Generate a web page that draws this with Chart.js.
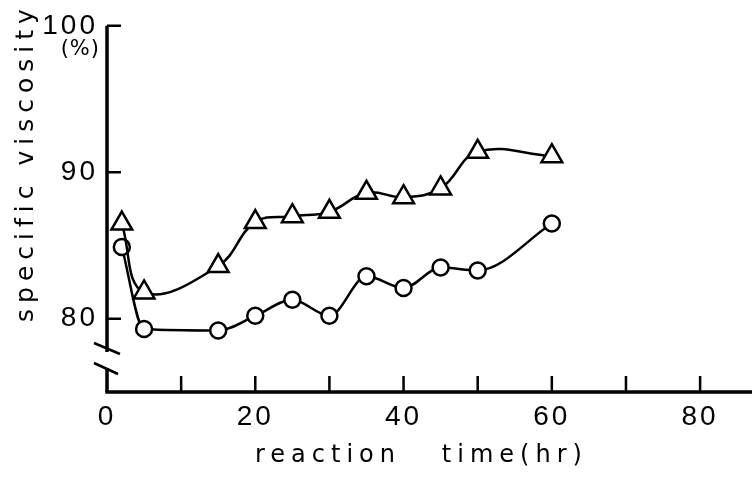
<!DOCTYPE html>
<html>
<head>
<meta charset="utf-8">
<script src="https://cdn.jsdelivr.net/npm/chart.js@4/dist/chart.umd.min.js"></script>
<style>
    html, body { margin: 0; padding: 0; background: #fff; overflow: hidden; }
    #wrap { width: 752px; height: 480px; overflow: hidden; }
    #viscChart { display: block; }
</style>
</head>
<body>
<div id="wrap"><canvas id="viscChart" width="752" height="480"></canvas></div>
<script>
// Data
const hours = [2, 5, 15, 20, 25, 30, 35, 40, 45, 50, 60];
const triangleSeries = [86.5, 81.8, 83.6, 86.6, 87.0, 87.3, 88.6, 88.3, 88.9, 91.4, 91.1];
const circleSeries = [84.9, 79.3, 79.2, 80.2, 81.3, 80.2, 82.9, 82.1, 83.5, 83.3, 86.5];
const xTicks = [0, 10, 20, 30, 40, 50, 60, 70, 80];
const xLabeled = [0, 20, 40, 60, 80];
const yTicks = [80, 90, 100];

const xTitle = 'reaction   time(hr)';
const yTitle = 'specific viscosity';
const yUnit = '(%)';

function toPoints(values) {
    return hours.map((h, i) => ({ x: h, y: values[i] }));
}

// axes, inward ticks, axis break and titles
const decorPlugin = {
    id: 'decor',
    beforeDraw(chart) {
        chart.ctx.letterSpacing = '3px';
    },
    afterDraw(chart) {
        const ctx = chart.ctx;
        const area = chart.chartArea;
        const xs = chart.scales.x;
        const ys = chart.scales.y;
        const left = area.left;
        const bottom = area.bottom;

        ctx.save();
        ctx.letterSpacing = '0px';
        ctx.strokeStyle = '#000';
        ctx.lineCap = 'butt';

        // x axis
        ctx.lineWidth = 3.5;
        ctx.beginPath();
        ctx.moveTo(left - 1.75, bottom);
        ctx.lineTo(area.right, bottom);
        ctx.stroke();

        // y axis with a break near the bottom
        ctx.beginPath();
        ctx.moveTo(left, area.top);
        ctx.lineTo(left, bottom - 40);
        ctx.moveTo(left, bottom - 24);
        ctx.lineTo(left, bottom);
        ctx.stroke();

        ctx.lineWidth = 2.5;
        ctx.beginPath();
        ctx.moveTo(left - 13, bottom - 49);
        ctx.lineTo(left + 13, bottom - 38);
        ctx.moveTo(left - 13, bottom - 29);
        ctx.lineTo(left + 11, bottom - 18);
        ctx.stroke();

        // tick marks pointing into the plot
        ctx.lineWidth = 2.5;
        ctx.beginPath();
        xTicks.forEach(v => {
            if (v === 0) return;
            const px = xs.getPixelForValue(v);
            ctx.moveTo(px, bottom);
            ctx.lineTo(px, bottom - 16);
        });
        yTicks.forEach(v => {
            const py = ys.getPixelForValue(v);
            ctx.moveTo(left, py);
            ctx.lineTo(left + 14, py);
        });
        ctx.stroke();

        ctx.fillStyle = '#000';

        // unit under the 100 label
        ctx.font = '21px "DejaVu Sans"';
        ctx.letterSpacing = '1px';
        ctx.textAlign = 'right';
        ctx.textBaseline = 'middle';
        ctx.fillText(yUnit, left - 7, ys.getPixelForValue(98.4));

        // x title
        ctx.font = '24px "DejaVu Sans"';
        ctx.letterSpacing = '6px';
        ctx.textAlign = 'left';
        ctx.textBaseline = 'alphabetic';
        ctx.fillText(xTitle, 255, 462);

        // y title
        ctx.save();
        ctx.translate(33, 322);
        ctx.rotate(-Math.PI / 2);
        ctx.font = '25px "DejaVu Sans"';
        ctx.letterSpacing = '6px';
        ctx.fillText(yTitle, 0, 0);
        ctx.restore();

        ctx.restore();
        ctx.letterSpacing = '0px';
    }
};

const tickFont = { family: '"Liberation Sans"', size: 28 };

new Chart(document.getElementById('viscChart'), {
    type: 'scatter',
    data: {
        datasets: [
            {
                label: 'triangle',
                data: toPoints(triangleSeries),
                showLine: true,
                tension: 0.4,
                borderColor: '#000',
                borderWidth: 2.5,
                pointStyle: 'triangle',
                pointRadius: 12,
                pointBorderWidth: 2.5,
                pointBackgroundColor: '#fff',
                pointBorderColor: '#000',
            },
            {
                label: 'circle',
                data: toPoints(circleSeries),
                showLine: true,
                cubicInterpolationMode: 'monotone',
                borderColor: '#000',
                borderWidth: 2.5,
                pointStyle: 'circle',
                pointRadius: 8,
                pointBorderWidth: 2.5,
                pointBackgroundColor: '#fff',
                pointBorderColor: '#000',
            },
        ],
    },
    options: {
        responsive: false,
        animation: false,
        devicePixelRatio: 1,
        layout: { autoPadding: false, padding: { top: 16, right: 0, left: 0, bottom: 0 } },
        plugins: {
            legend: { display: false },
            tooltip: { enabled: false },
        },
        scales: {
            x: {
                type: 'linear',
                min: 0,
                max: 87,
                border: { display: false },
                grid: { display: false, drawTicks: false },
                afterBuildTicks: (scale) => {
                    scale.ticks = xTicks.map(v => ({ value: v }));
                },
                afterFit: (scale) => {
                    scale.height = 88;
                    scale.paddingLeft = 0;
                    scale.paddingRight = 0;
                },
                ticks: {
                    autoSkip: false,
                    maxRotation: 0,
                    padding: 8,
                    color: '#000',
                    font: tickFont,
                    callback: (v) => (xLabeled.includes(v) ? String(v) : ''),
                },
            },
            y: {
                type: 'linear',
                min: 75,
                max: 100,
                border: { display: false },
                grid: { display: false, drawTicks: false },
                afterBuildTicks: (scale) => {
                    scale.ticks = yTicks.map(v => ({ value: v }));
                },
                afterFit: (scale) => { scale.width = 107; },
                ticks: {
                    padding: 9,
                    color: '#000',
                    font: tickFont,
                },
            },
        },
    },
    plugins: [decorPlugin],
});
</script>
</body>
</html>
